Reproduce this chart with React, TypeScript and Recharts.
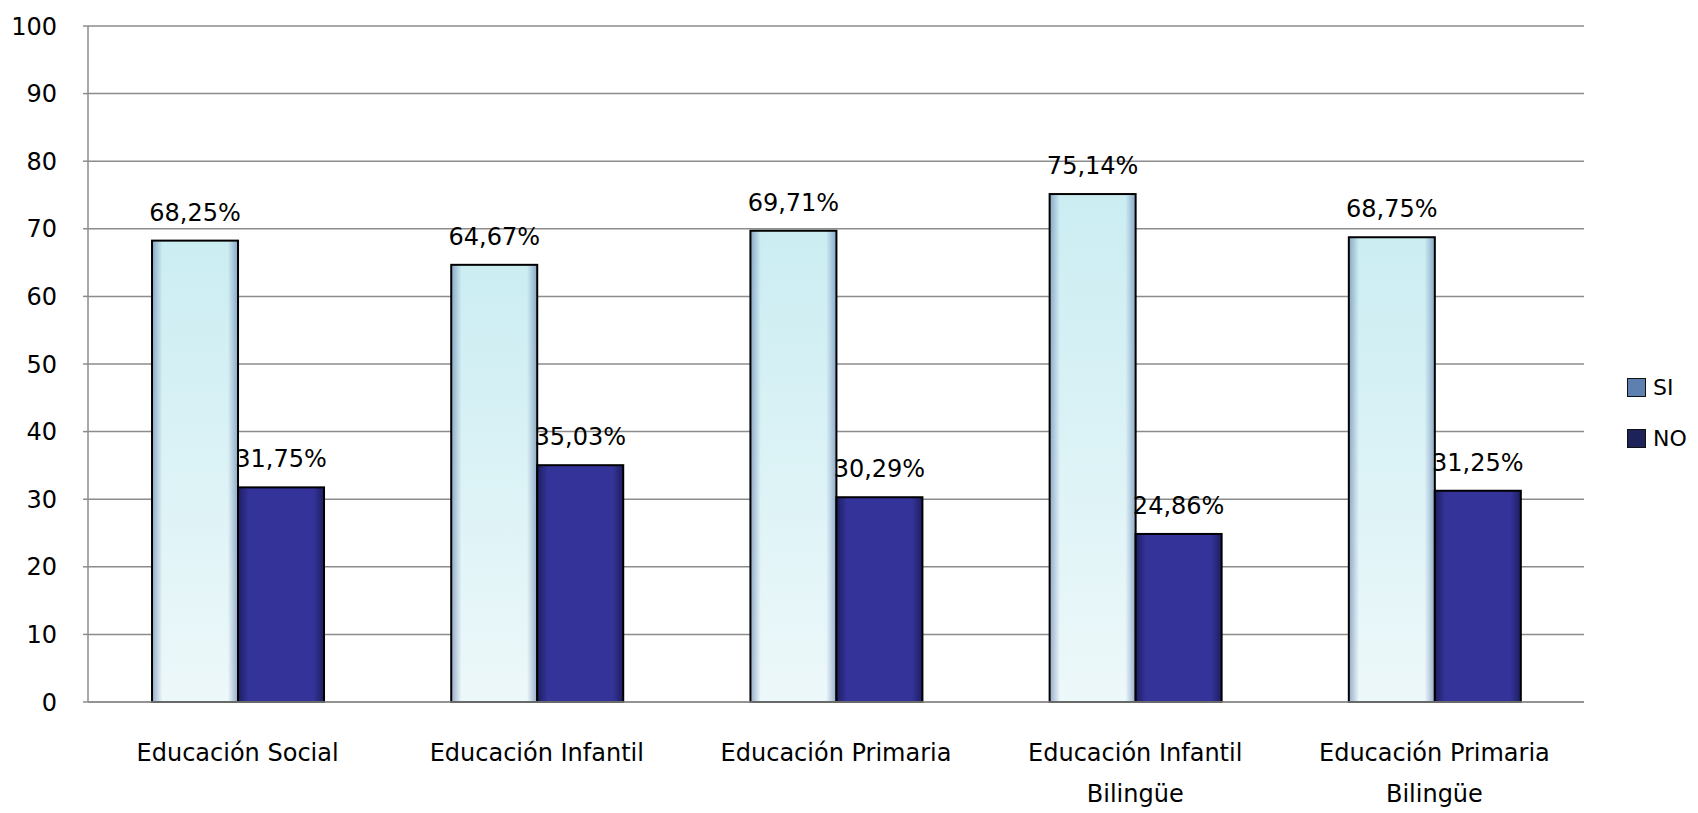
import { BarChart, Bar, XAxis, YAxis, CartesianGrid, LabelList } from "recharts";

const categories = [
  "Educación Social",
  "Educación Infantil",
  "Educación Primaria",
  "Educación Infantil Bilingüe",
  "Educación Primaria Bilingüe",
];
const siValues = [68.25, 64.67, 69.71, 75.14, 68.75];
const noValues = [31.75, 35.03, 30.29, 24.86, 31.25];
const yTicks = [0, 10, 20, 30, 40, 50, 60, 70, 80, 90, 100];

const data = categories.map((name, i) => ({ name, SI: siValues[i], NO: noValues[i] }));

const FONT = "'DejaVu Sans', sans-serif";
const FS = 24;

const fmt = (v: any) => Number(v).toFixed(2).replace(".", ",") + "%";

function XTick({ x, y, payload }: any) {
  const words = String(payload.value).split(" ");
  const lines = words.length > 2 ? [words.slice(0, 2).join(" "), words.slice(2).join(" ")] : [words.join(" ")];
  return (
    <g>
      {lines.map((l, i) => (
        <text key={i} x={x} y={y + 51 + i * 41} textAnchor="middle" fontSize={FS} fontFamily={FONT} fill="#000">
          {l}
        </text>
      ))}
    </g>
  );
}

function SiShape({ x, y, width, height }: any) {
  return (
    <g>
      <rect x={x} y={y} width={width} height={height} fill="url(#siV)" />
      <rect x={x} y={y} width={width} height={height} fill="url(#siEdge)" />
      <rect x={x} y={y} width={width} height={height} fill="none" stroke="#000" strokeWidth={2} />
    </g>
  );
}

function NoShape({ x, y, width, height }: any) {
  return (
    <g>
      <rect x={x} y={y} width={width} height={height} fill="#333399" />
      <rect x={x} y={y} width={width} height={height} fill="url(#noEdge)" />
      <rect x={x} y={y} width={width} height={height} fill="none" stroke="#000" strokeWidth={2} />
    </g>
  );
}

function LegendBox() {
  const items = [
    { label: "SI", fill: "#5d80b0" },
    { label: "NO", fill: "#1d2259" },
  ];
  return (
    <div style={{ position: "absolute", left: 1627, top: 362, fontFamily: FONT, fontSize: 22 }}>
      {items.map((it) => (
        <div key={it.label} style={{ display: "flex", alignItems: "center", height: 51 }}>
          <span style={{ width: 17, height: 17, background: it.fill, border: "1px solid #111", marginRight: 7, display: "inline-block" }} />
          <span>{it.label}</span>
        </div>
      ))}
    </div>
  );
}

export default function App() {
  return (
    <div style={{ position: "absolute", left: 0, top: 0, width: 1698, height: 813, background: "#fff" }}>
      <BarChart
        width={1698}
        height={813}
        data={data}
        margin={{ top: 26, right: 114, left: 0, bottom: 0 }}
        barCategoryGap="21.4%"
        barGap={0}
      >
        <defs>
          <linearGradient id="siV" x1="0" y1="0" x2="0" y2="1">
            <stop offset="0%" stopColor="#cbedf2" />
            <stop offset="100%" stopColor="#edf8fa" />
          </linearGradient>
          <linearGradient id="siEdge" x1="0" y1="0" x2="1" y2="0">
            <stop offset="0%" stopColor="#5a78a8" stopOpacity={0.6} />
            <stop offset="12%" stopColor="#5a78a8" stopOpacity={0} />
            <stop offset="88%" stopColor="#5a78a8" stopOpacity={0} />
            <stop offset="100%" stopColor="#5a78a8" stopOpacity={0.6} />
          </linearGradient>
          <linearGradient id="noEdge" x1="0" y1="0" x2="1" y2="0">
            <stop offset="0%" stopColor="#10103a" stopOpacity={0.6} />
            <stop offset="12%" stopColor="#10103a" stopOpacity={0} />
            <stop offset="88%" stopColor="#10103a" stopOpacity={0} />
            <stop offset="100%" stopColor="#10103a" stopOpacity={0.6} />
          </linearGradient>
        </defs>
        <CartesianGrid vertical={false} stroke="#8c8c8c" strokeWidth={1.5} />
        <XAxis
          dataKey="name"
          height={111}
          interval={0}
          tickLine={false}
          axisLine={{ stroke: "#8c8c8c", strokeWidth: 1.5 }}
          tick={<XTick />}
        />
        <YAxis
          width={88}
          domain={[0, 100]}
          ticks={yTicks}
          interval={0}
          tickSize={5}
          tickMargin={26}
          axisLine={{ stroke: "#8c8c8c", strokeWidth: 1.5 }}
          tickLine={{ stroke: "#8c8c8c", strokeWidth: 1.5 }}
          tick={{ fontSize: FS, fontFamily: FONT, fill: "#000" }}
        />
        <Bar dataKey="SI" fill="#5d80b0" shape={<SiShape />} isAnimationActive={false}>
          <LabelList dataKey="SI" position="top" offset={20} formatter={fmt} style={{ fontSize: FS, fontFamily: FONT, fill: "#000" }} />
        </Bar>
        <Bar dataKey="NO" fill="#1d2259" shape={<NoShape />} isAnimationActive={false}>
          <LabelList dataKey="NO" position="top" offset={20} formatter={fmt} style={{ fontSize: FS, fontFamily: FONT, fill: "#000" }} />
        </Bar>
      </BarChart>
      <LegendBox />
    </div>
  );
}
